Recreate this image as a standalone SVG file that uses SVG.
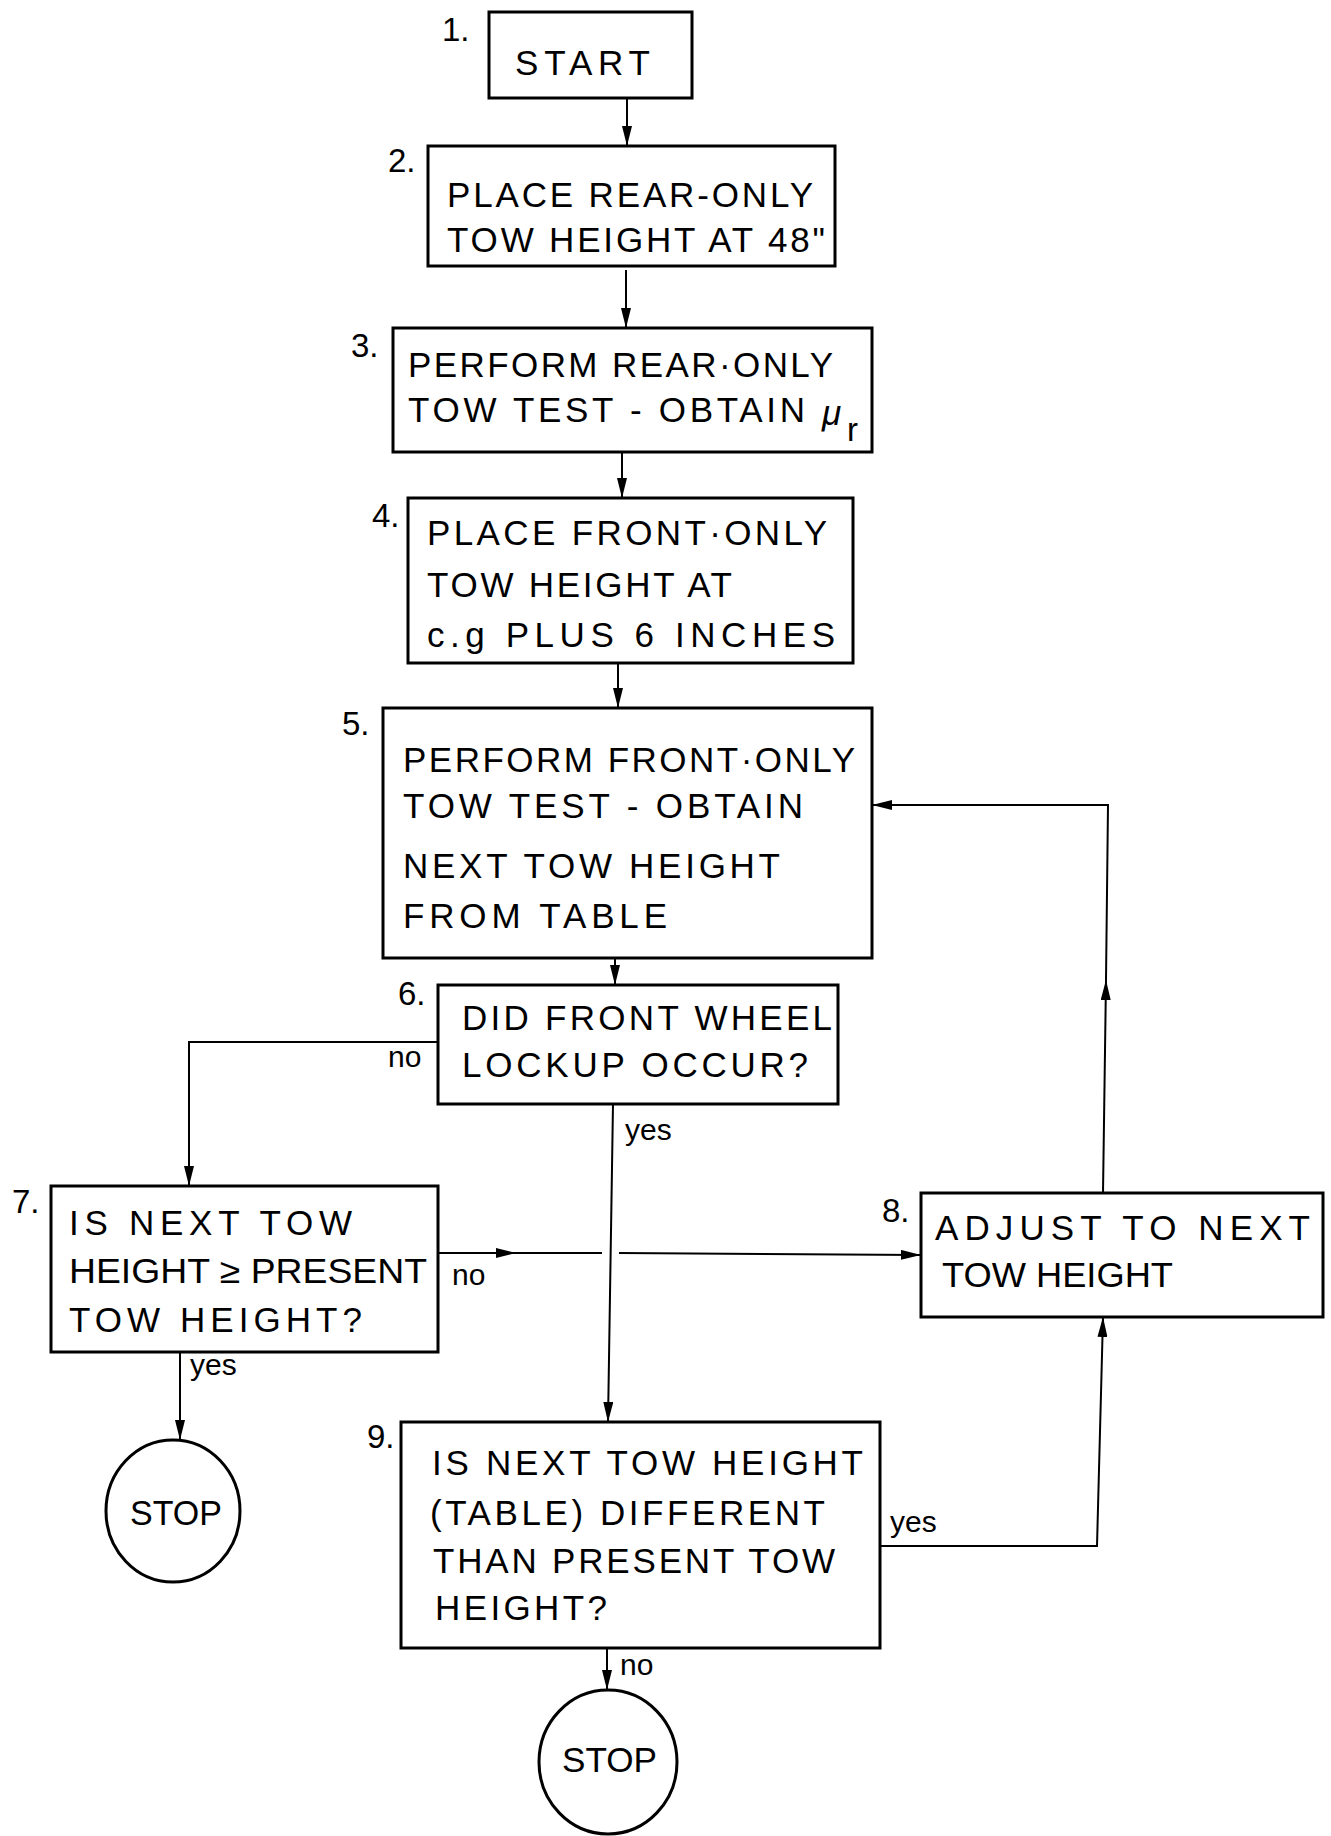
<svg xmlns="http://www.w3.org/2000/svg" width="1331" height="1836" viewBox="0 0 1331 1836">
<style>
.box{fill:none;stroke:#000;stroke-width:3}
.t{font-family:"Liberation Sans",Arial,sans-serif;font-size:35px;fill:#000}
.n{font-family:"Liberation Sans",Arial,sans-serif;font-size:33px;fill:#000}
.l{font-family:"Liberation Sans",Arial,sans-serif;font-size:30px;fill:#000}
.c{fill:none;stroke:#000;stroke-width:2}
</style>
<defs>
<marker id="ah" viewBox="0 0 20 10" refX="20" refY="5" markerWidth="20" markerHeight="10" markerUnits="userSpaceOnUse" orient="auto"><path d="M0,0 L20,5 L0,10 z" fill="#000"/></marker>
</defs>
<rect width="1331" height="1836" fill="#fff"/>
<g id="connectors">
<path class="c" d="M627,98 L627,146" marker-end="url(#ah)"/>
<path class="c" d="M626,270 L626,328" marker-end="url(#ah)"/>
<path class="c" d="M622,452 L622,498" marker-end="url(#ah)"/>
<path class="c" d="M618,663 L618,708" marker-end="url(#ah)"/>
<path class="c" d="M615,958 L615,985" marker-end="url(#ah)"/>
<path class="c" d="M438,1042 L189,1042 L189,1186" marker-end="url(#ah)"/>
<path class="c" d="M613,1104 L608,1422" marker-end="url(#ah)"/>
<path class="c" d="M438,1253 L516,1253" marker-end="url(#ah)"/>
<path class="c" d="M516,1253 L602,1253"/>
<path class="c" d="M619,1253 L921,1255" marker-end="url(#ah)"/>
<path class="c" d="M180,1352 L180,1440" marker-end="url(#ah)"/>
<path class="c" d="M607,1648 L607,1690" marker-end="url(#ah)"/>
<path class="c" d="M880,1546 L1097,1546 L1103,1317" marker-end="url(#ah)"/>
<path class="c" d="M1103,1193 L1106,980" marker-end="url(#ah)"/>
<path class="c" d="M1106,980 L1108,805 L872,805" marker-end="url(#ah)"/>
<text class="l" x="388" y="1067">no</text>
<text class="l" x="452" y="1285">no</text>
<text class="l" x="625" y="1140">yes</text>
<text class="l" x="190" y="1375">yes</text>
<text class="l" x="890" y="1532">yes</text>
<text class="l" x="620" y="1675">no</text>
</g>
<g id="n1">
<rect class="box" x="489" y="12" width="203" height="86"/>
<text class="n" x="442" y="41">1.</text>
<text class="t" x="515" y="75" textLength="135" lengthAdjust="spacing">START</text>
</g>
<g id="n2">
<rect class="box" x="428" y="146" width="407" height="120"/>
<text class="n" x="388" y="172">2.</text>
<text class="t" x="447" y="207" textLength="366" lengthAdjust="spacing">PLACE REAR-ONLY</text>
<text class="t" x="447" y="252" textLength="378" lengthAdjust="spacing">TOW HEIGHT AT 48"</text>
</g>
<g id="n3">
<rect class="box" x="393" y="328" width="479" height="124"/>
<text class="n" x="351" y="357">3.</text>
<text class="t" x="408" y="377" textLength="425" lengthAdjust="spacing">PERFORM REAR·ONLY</text>
<text class="t" x="408" y="422" textLength="397" lengthAdjust="spacing">TOW TEST - OBTAIN</text>
<text class="t" x="822" y="425" font-style="italic">μ</text>
<text class="n" x="847" y="441" font-size="24">r</text>
</g>
<g id="n4">
<rect class="box" x="408" y="498" width="445" height="165"/>
<text class="n" x="372" y="527">4.</text>
<text class="t" x="427" y="545" textLength="400" lengthAdjust="spacing">PLACE FRONT·ONLY</text>
<text class="t" x="427" y="597" textLength="305" lengthAdjust="spacing">TOW HEIGHT AT</text>
<text class="t" x="427" y="647" textLength="408" lengthAdjust="spacing">c.g PLUS 6 INCHES</text>
</g>
<g id="n5">
<rect class="box" x="383" y="708" width="489" height="250"/>
<text class="n" x="342" y="735">5.</text>
<text class="t" x="403" y="772" textLength="452" lengthAdjust="spacing">PERFORM FRONT·ONLY</text>
<text class="t" x="403" y="818" textLength="400" lengthAdjust="spacing">TOW TEST - OBTAIN</text>
<text class="t" x="403" y="878" textLength="377" lengthAdjust="spacing">NEXT TOW HEIGHT</text>
<text class="t" x="403" y="928" textLength="264" lengthAdjust="spacing">FROM TABLE</text>
</g>
<g id="n6">
<rect class="box" x="438" y="985" width="400" height="119"/>
<text class="n" x="398" y="1005">6.</text>
<text class="t" x="462" y="1030" textLength="370" lengthAdjust="spacing">DID FRONT WHEEL</text>
<text class="t" x="462" y="1077" textLength="346" lengthAdjust="spacing">LOCKUP OCCUR?</text>
</g>
<g id="n7">
<rect class="box" x="51" y="1186" width="387" height="166"/>
<text class="n" x="12" y="1213">7.</text>
<text class="t" x="69" y="1235" textLength="283" lengthAdjust="spacing">IS NEXT TOW</text>
<text class="t" x="69" y="1283" textLength="358" lengthAdjust="spacingAndGlyphs">HEIGHT ≥ PRESENT</text>
<text class="t" x="69" y="1332" textLength="293" lengthAdjust="spacing">TOW HEIGHT?</text>
</g>
<g id="n8">
<rect class="box" x="921" y="1193" width="402" height="124"/>
<text class="n" x="882" y="1222">8.</text>
<text class="t" x="935" y="1240" textLength="375" lengthAdjust="spacing">ADJUST TO NEXT</text>
<text class="t" x="942" y="1287" textLength="231" lengthAdjust="spacingAndGlyphs">TOW HEIGHT</text>
</g>
<g id="n9">
<rect class="box" x="401" y="1422" width="479" height="226"/>
<text class="n" x="367" y="1448">9.</text>
<text class="t" x="432" y="1475" textLength="431" lengthAdjust="spacing">IS NEXT TOW HEIGHT</text>
<text class="t" x="430" y="1525" textLength="395" lengthAdjust="spacing">(TABLE) DIFFERENT</text>
<text class="t" x="433" y="1573" textLength="402" lengthAdjust="spacing">THAN PRESENT TOW</text>
<text class="t" x="435" y="1620" textLength="172" lengthAdjust="spacing">HEIGHT?</text>
</g>
<g id="stop1">
<ellipse class="box" cx="173" cy="1511" rx="67" ry="71"/>
<text class="t" x="130" y="1525" textLength="92" lengthAdjust="spacingAndGlyphs">STOP</text>
</g>
<g id="stop2">
<ellipse class="box" cx="608" cy="1762" rx="69" ry="72"/>
<text class="t" x="562" y="1772" textLength="95" lengthAdjust="spacingAndGlyphs">STOP</text>
</g>
</svg>
